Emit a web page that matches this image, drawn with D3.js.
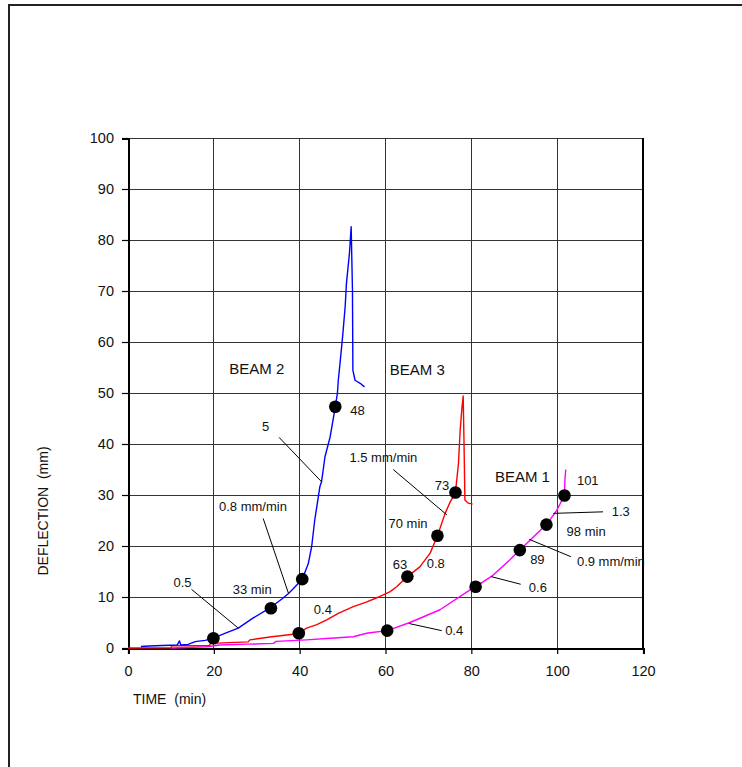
<!DOCTYPE html>
<html>
<head>
<meta charset="utf-8">
<script src="https://cdn.jsdelivr.net/npm/d3@7/dist/d3.min.js"></script>
<style>
html,body{margin:0;padding:0;background:#fff;}
svg{display:block;font-family:Arial,"Liberation Sans",sans-serif;}
</style>
</head>
<body>
<svg id="chart" width="742" height="767"></svg>
<script>
// ---------- data ----------
const xTicks = [0, 20, 40, 60, 80, 100, 120];
const yTicks = [0, 10, 20, 30, 40, 50, 60, 70, 80, 90, 100];

// BEAM 2 (blue)
const beam2T = [3, 5, 8, 11.5, 12, 12.3, 14, 15.5, 16, 18, 20, 23, 25.7, 29, 33, 36, 37.4, 38.5, 40.6, 42, 42.8, 43.5, 44.7, 45.1, 45.9, 47.1, 48.3, 48.8, 49.0, 49.4, 50, 50.6, 50.9, 51.6, 52, 52.3, 52.4, 52.9, 54.1, 55.1];
const beam2D = [0.3, 0.4, 0.5, 0.6, 1.4, 0.6, 0.7, 1.2, 1.3, 1.5, 2.0, 3.0, 3.9, 5.8, 7.8, 9.7, 10.7, 11.6, 13.5, 16.5, 19.9, 25, 31.6, 32.6, 37.5, 41.4, 47.3, 50, 52.5, 55.8, 61, 66.9, 71.5, 77.4, 82.6, 70.2, 54.5, 52.5, 51.9, 51.2];
const beam2MarkT = [19.9, 33.3, 40.6, 48.3];
const beam2MarkD = [1.9, 7.8, 13.5, 47.3];

// BEAM 3 (red)
const beam3T = [0, 10, 10.2, 19, 19.2, 28, 28.4, 33.5, 38.5, 39.8, 41.6, 44, 46.3, 49, 52.5, 55.5, 58.7, 61, 62.6, 65.1, 68, 70.4, 72.1, 73.9, 75, 76.3, 77, 77.4, 77.8, 78.1, 78.3, 78.5, 79.3, 80.3];
const beam3D = [0, 0.05, 0.45, 0.5, 0.9, 1.2, 1.6, 2.2, 2.7, 2.9, 3.9, 4.6, 5.5, 6.8, 8.1, 9.0, 10.1, 11.0, 12, 14, 15.9, 18.6, 22, 26.4, 28.5, 30.5, 36.2, 42.7, 47, 49.4, 40, 29, 28.4, 28.2];
const beam3MarkT = [39.8, 65.1, 72.1, 76.3];
const beam3MarkD = [2.9, 14, 22, 30.5];

// BEAM 1 (magenta)
const beam1T = [10, 18.3, 21.4, 28, 33.9, 34.5, 41.6, 47.1, 52.5, 55.6, 56.4, 60.4, 65.7, 72.7, 79.7, 81, 85.1, 89, 91.3, 94.5, 97.5, 99.9, 101.7, 101.8, 102];
const beam1D = [0, 0.25, 0.6, 0.75, 0.9, 1.3, 1.6, 1.9, 2.2, 2.9, 3.0, 3.4, 5.0, 7.5, 11.4, 12, 14.3, 17.3, 19.2, 21.8, 24.2, 27, 29.9, 32.9, 35];
const beam1MarkT = [60.4, 81, 91.3, 97.5, 101.7];
const beam1MarkD = [3.4, 12, 19.2, 24.2, 29.9];

// beam names (anchored in data units)
const beamNames = ["BEAM 2", "BEAM 3", "BEAM 1"];
const beamNameT = [23.6, 61.0, 85.5];
const beamNameD = [54.8, 54.5, 33.5];

// annotations (text, anchor in data units)
const noteText = ["0.5", "33 min", "0.8 mm/min", "5", "48", "0.4", "1.5 mm/min", "73", "70 min", "63", "0.8", "101", "1.3", "98 min", "89", "0.9 mm/min", "0.6", "0.4"];
const noteT = [10.6, 24.4, 21.2, 31.2, 51.8, 43.3, 51.6, 71.5, 60.7, 61.7, 69.6, 104.6, 112.7, 102.2, 93.7, 104.6, 93.4, 73.9];
const noteD = [12.9, 11.5, 27.7, 43.4, 46.5, 7.6, 37.4, 31.9, 24.5, 16.3, 16.6, 32.9, 26.7, 22.8, 17.3, 16.9, 11.9, 3.5];

// leader lines (from text to curve)
const leaderT1 = [14.8, 31.5, 35.2, 61.8, 110.7, 103.2, 91.5, 73.1];
const leaderD1 = [11.5, 25.4, 41.3, 35.0, 26.7, 17.9, 12.5, 3.4];
const leaderT2 = [25.7, 37.4, 45.1, 74.3, 99.1, 93.5, 84.6, 65.5];
const leaderD2 = [3.9, 10.7, 32.6, 26.1, 26.4, 21.3, 14.0, 4.8];

// ---------- drawing ----------
const svg = d3.select("#chart");
const L = 128, R = 643, T = 138, B = 648;
const x = d3.scaleLinear().domain([0, 120]).range([L, R]);
const y = d3.scaleLinear().domain([0, 100]).range([B, T]);

// outer frame
svg.append("rect").attr("x", 9).attr("y", 5).attr("width", 900).attr("height", 900)
  .attr("fill", "none").attr("stroke", "#222").attr("stroke-width", 2);

// grid
const grid = svg.append("g");
grid.selectAll("line.gx").data(xTicks).join("line")
  .attr("x1", d => x(d)).attr("x2", d => x(d)).attr("y1", T).attr("y2", B)
  .attr("stroke", "#333").attr("stroke-width", 1).attr("shape-rendering", "crispEdges");
grid.selectAll("line.gy").data(yTicks).join("line")
  .attr("x1", L).attr("x2", R).attr("y1", d => y(d)).attr("y2", d => y(d))
  .attr("stroke", "#333").attr("stroke-width", 1).attr("shape-rendering", "crispEdges");
// right border thicker
svg.append("line").attr("x1", R).attr("x2", R).attr("y1", T).attr("y2", B)
  .attr("stroke", "#000").attr("stroke-width", 2).attr("shape-rendering", "crispEdges");

// axes
const xAxis = d3.axisBottom(x).tickValues(xTicks).tickSize(6).tickPadding(12).tickFormat(d3.format("d"));
const yAxis = d3.axisLeft(y).tickValues(yTicks).tickSize(6).tickPadding(8).tickFormat(d3.format("d"));
const gx = svg.append("g").attr("transform", `translate(0,${B})`).call(xAxis);
const gy = svg.append("g").attr("transform", `translate(${L},0)`).call(yAxis);
[gx, gy].forEach(g => {
  g.select(".domain").attr("stroke", "#000").attr("stroke-width", 2).attr("shape-rendering", "crispEdges");
  g.selectAll(".tick line").attr("stroke", "#000").attr("stroke-width", 1.2);
  g.selectAll(".tick text").attr("font-size", 14.5).attr("fill", "#111")
    .attr("font-family", "Arial, 'Liberation Sans', sans-serif");
});

// axis titles
svg.append("text").attr("x", 133).attr("y", 704).attr("font-size", 14).attr("fill", "#111")
  .attr("xml:space", "preserve").text("TIME  (min)");
svg.append("text").attr("transform", "translate(48,511) rotate(-90)").attr("text-anchor", "middle")
  .attr("font-size", 14).attr("fill", "#111").attr("xml:space", "preserve").text("DEFLECTION  (mm)");

// curves
const line = d3.line().x(d => x(d[0])).y(d => y(d[1]));
const series = [
  {t: beam1T, d: beam1D, c: "#ff00ff"},
  {t: beam3T, d: beam3D, c: "#ff0000"},
  {t: beam2T, d: beam2D, c: "#0000ff"}
];
series.forEach(s => {
  svg.append("path").datum(s.t.map((t, i) => [t, s.d[i]]))
    .attr("d", line).attr("fill", "none").attr("stroke", s.c).attr("stroke-width", 1.4)
    .attr("stroke-linejoin", "round");
});

// leader lines
svg.append("g").selectAll("line").data(leaderT1).join("line")
  .attr("x1", (d, i) => x(leaderT1[i])).attr("y1", (d, i) => y(leaderD1[i]))
  .attr("x2", (d, i) => x(leaderT2[i])).attr("y2", (d, i) => y(leaderD2[i]))
  .attr("stroke", "#000").attr("stroke-width", 1);

// markers
const marks = [[beam2MarkT, beam2MarkD], [beam3MarkT, beam3MarkD], [beam1MarkT, beam1MarkD]];
marks.forEach(m => {
  svg.append("g").selectAll("circle").data(m[0]).join("circle")
    .attr("cx", (d, i) => x(m[0][i])).attr("cy", (d, i) => y(m[1][i])).attr("r", 6.3).attr("fill", "#000");
});

// annotations
svg.append("g").selectAll("text").data(noteText).join("text")
  .attr("x", (d, i) => x(noteT[i])).attr("y", (d, i) => y(noteD[i]))
  .attr("dy", "0.35em").attr("font-size", 13).attr("fill", "#111").text(d => d);

// beam names
svg.append("g").selectAll("text").data(beamNames).join("text")
  .attr("x", (d, i) => x(beamNameT[i])).attr("y", (d, i) => y(beamNameD[i]))
  .attr("dy", "0.35em").attr("font-size", 15).attr("fill", "#111").text(d => d);
</script>
</body>
</html>
